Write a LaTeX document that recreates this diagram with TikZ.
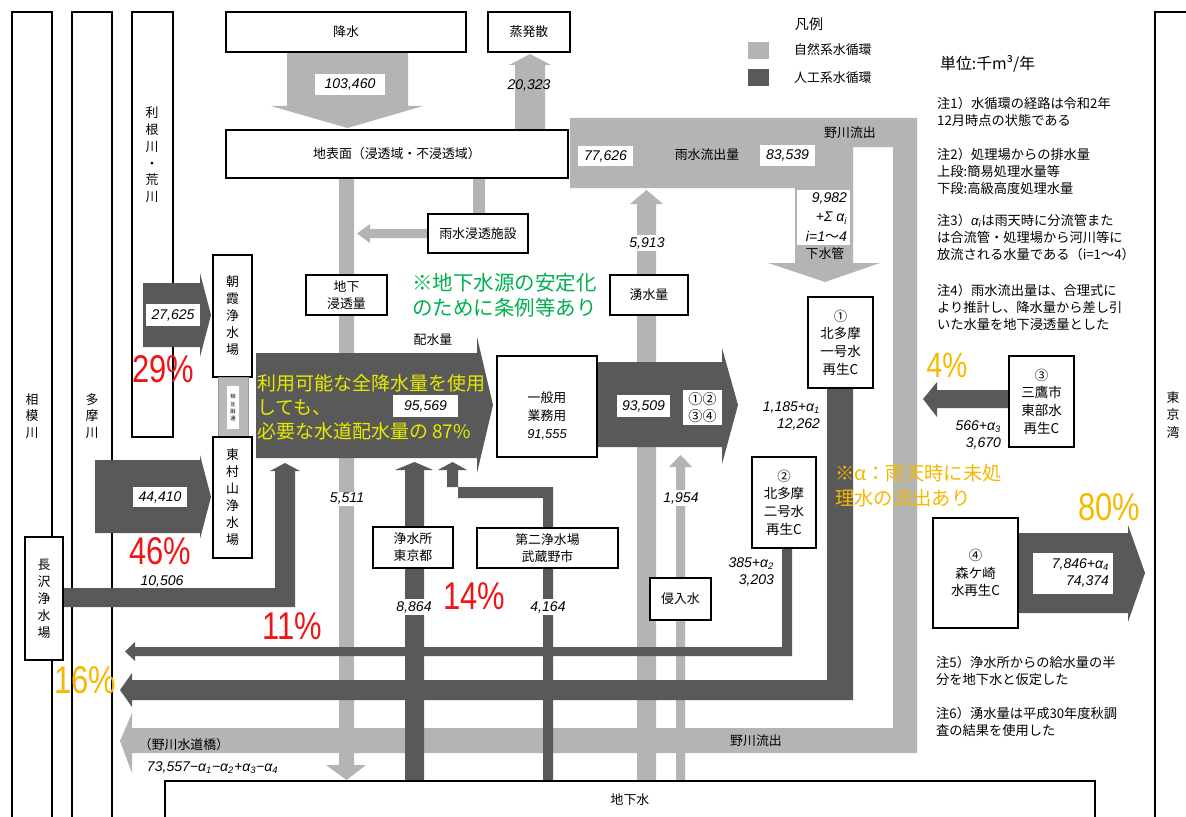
\documentclass[tikz,border=0pt]{standalone}
\usepackage{fontspec}
\usepackage{graphicx}
\setmainfont{Noto Sans CJK JP}
\newfontfamily\numf{Liberation Sans}
\newcommand\fs[2]{\fontsize{#1}{#2}\selectfont}
\definecolor{lg}{RGB}{180,180,180}
\definecolor{dg}{RGB}{89,89,89}
\definecolor{pred}{RGB}{240,20,20}
\definecolor{porg}{RGB}{245,185,0}
\definecolor{pgrn}{RGB}{0,176,80}
\definecolor{pyel}{RGB}{232,232,0}
\tikzset{
 bx/.style={draw, fill=white, line width=1.2pt, inner sep=0pt, align=center, font=\fs{11}{14.5}},
 tk/.style={bx, line width=2.4pt},
 cb/.style={bx, line width=1.5pt, font=\fs{11.5}{15}},
 wb/.style={fill=white, draw=none, inner sep=0pt},
 num/.style={font=\numf\itshape\fs{12}{15}, inner sep=1.5pt},
 wnum/.style={num, fill=white},
 jt/.style={font=\fs{11}{14.5}, inner sep=0pt, align=center},
 note/.style={anchor=north west, align=left, font=\fs{11.3}{14.5}, inner sep=0pt},
 pct/.style={font=\numf\fs{33}{33}, inner sep=0pt, text height=23pt, text depth=0pt},
}
\newcommand\bx[7][bx]{\node[#1, minimum width={(#5-#3)*0.3mm}, minimum height={(#6-#4)*0.3mm}] (#2) at ({(#3+#5)/2},{(#4+#6)/2}) {#7};}
\newcommand\pc[1]{\scalebox{0.8}[1]{#1}}
\begin{document}
\begin{tikzpicture}[x=0.03cm,y=-0.03cm]
\useasboundingbox (0,0) rectangle (1186,816);
\clip (0,0) rectangle (1186,816);
\fill[white] (0,0) rectangle (1186,816);

% ---------- river columns ----------
\bx{sagami}{12}{12}{52}{840}{}
\bx{tama}{72}{12}{112}{840}{}
\bx{tone}{132}{12}{173}{437}{}
\bx{tokyo}{1155}{12}{1210}{840}{}
\node[jt, font=\fs{11}{14}] (sagamit) at (32,416) {相\\模\\川};
\node[jt, font=\fs{11}{14}] (tamat) at (92,416) {多\\摩\\川};
\node[jt, font=\fs{11}{14.3}] (tonet) at (152,155) {利\\根\\川\\・\\荒\\川};
\node[jt, font=\fs{11}{15}] (tokyot) at (1173,415) {東\\京\\湾};

% ---------- light gray (natural) flows ----------
\fill[lg] (287,52) -- (408,52) -- (408,106) -- (423,106) -- (347.5,128) -- (271,106) -- (287,106) -- cycle;
\fill[lg] (515,130) -- (545,130) -- (545,65) -- (551,65) -- (530,54) -- (509,65) -- (515,65) -- cycle;
\fill[lg] (339,178) -- (354,178) -- (354,765) -- (366,765) -- (346.5,780) -- (326,765) -- (339,765) -- cycle;
\fill[lg] (473,178) rectangle (485,214);
\fill[lg] (428,229) -- (370,229) -- (370,224) -- (357,233.5) -- (370,243) -- (370,238) -- (428,238) -- cycle;
\fill[lg] (637,780) -- (637,204) -- (630,204) -- (646.5,190) -- (663,204) -- (656,204) -- (656,780) -- cycle;
\fill[lg] (676,780) -- (676,467) -- (669,467) -- (680.5,455) -- (692,467) -- (685,467) -- (685,780) -- cycle;
\fill[lg] (570,118) -- (917,118) -- (917,753) -- (132,753) -- (132,773) -- (120,741) -- (132,713) -- (132,728) -- (893,728) -- (893,147) -- (853,147) -- (853,263) -- (880,263) -- (825,282) -- (768,263) -- (795,263) -- (795,188) -- (570,188) -- cycle;

% ---------- dark gray (artificial) flows ----------
\fill[dg] (143,283) -- (200,283) -- (200,273) -- (211,315) -- (200,357) -- (200,347) -- (143,347) -- cycle;
\fill[dg] (95,460) -- (200,460) -- (200,455) -- (211,497) -- (200,539) -- (200,533) -- (95,533) -- cycle;
\fill[dg] (256,353) -- (477,353) -- (477,337) -- (493,405) -- (477,473) -- (477,458) -- (256,458) -- cycle;
\fill[dg] (597,362) -- (722,362) -- (722,348) -- (738,405) -- (722,464) -- (722,447) -- (597,447) -- cycle;
\fill[dg] (1009,390) -- (937,390) -- (937,382) -- (923,399) -- (937,417) -- (937,408) -- (1009,408) -- cycle;
\fill[dg] (1018,533) -- (1128,533) -- (1128,525) -- (1145,573) -- (1128,622) -- (1128,613) -- (1018,613) -- cycle;
\fill[dg] (63,588) -- (275,588) -- (275,471) -- (270,471) -- (285,463) -- (300,471) -- (295,471) -- (295,607) -- (63,607) -- cycle;
\fill[dg] (405,780) -- (405,470) -- (395,470) -- (414.5,462) -- (433,470) -- (424,470) -- (424,780) -- cycle;
\fill[dg] (543,780) -- (543,498) -- (458,498) -- (458,470) -- (467,470) -- (452.5,462) -- (438,470) -- (447,470) -- (447,487) -- (553,487) -- (553,780) -- cycle;
\fill[dg] (782,548) -- (792,548) -- (792,656) -- (135,656) -- (135,661) -- (125,651.5) -- (135,642) -- (135,647) -- (782,647) -- cycle;
\fill[dg] (827,388) -- (853,388) -- (853,700) -- (132,700) -- (132,707) -- (120,690) -- (132,673) -- (132,680) -- (827,680) -- cycle;

% ---------- boxes ----------
\bx{kousui}{226}{12}{466}{52}{降水}
\bx{jouhatsu}{488}{12}{570}{52}{蒸発散}
\bx{chihyou}{226}{130}{568}{178}{地表面（浸透域・不浸透域）}
\bx{shisetsu}{428}{214}{528}{253}{雨水浸透施設}
\bx{shintou}{306}{275}{387}{315}{地下\\浸透量}
\bx{yusui}{610}{275}{688}{315}{湧水量}
\bx[tk]{asaka}{213}{255}{252}{377}{朝\\霞\\浄\\水\\場}
\bx[bx, draw=gray!80, fill=gray!55, line width=0.6pt]{sogo}{218}{377}{248}{437}{}
\fill[white] (227,386) rectangle (239,429);
\node[inner sep=0pt, align=center, font=\fs{4.5}{6}] (sogot) at (233,407.5) {相\\互\\融\\通};
\bx[tk]{higashi}{213}{437}{252}{558}{東\\村\\山\\浄\\水\\場}
\bx[tk]{nagasawa}{25}{537}{63}{660}{長\\沢\\浄\\水\\場}
\bx{ippan}{497}{356}{597}{457}{}
\node[jt, font=\fs{11}{15.5}] (ippant) at (547,416) {一般用\\業務用\\{\numf\itshape 91,555}};
\bx[tk]{jousui}{373}{527}{453}{568}{浄水所\\東京都}
\bx[tk]{dai2}{477}{528}{618}{568}{第二浄水場\\武蔵野市}
\bx{shinnyu}{650}{578}{711}{620}{侵入水}
\bx[cb]{c1}{808}{297}{873}{388}{①\\北多摩\\一号水\\再生C}
\bx[cb]{c2}{752}{457}{816}{548}{②\\北多摩\\二号水\\再生C}
\bx[cb]{c3}{1009}{356}{1074}{447}{③\\三鷹市\\東部水\\再生C}
\bx[cb]{c4}{933}{518}{1018}{628}{④\\森ケ崎\\水再生C}
\bx{chika}{165}{781}{1095}{840}{}
\node[jt] (chikat) at (630,800) {地下水};

% ---------- labels on flows ----------
\bx[wb]{l103b}{315}{74}{385}{95}{}
\node[num] (l103) at (350,84.5) {103,460};
\node[num] (l203) at (529,85) {20,323};
\bx[wb]{l776b}{578}{146}{633}{166}{}
\node[num] (l776) at (605.5,156) {77,626};
\bx[wb]{l835b}{760}{145}{815}{166}{}
\node[num] (l835) at (787.5,155.5) {83,539};
\node[jt] (uryu) at (707,155) {雨水流出量};
\node[jt] (nogawa1) at (850,133) {野川流出};
\bx[wb]{l998b}{797}{190}{850}{245}{}
\node[num, anchor=east, align=right, font=\numf\itshape\fs{12}{16.5}] (l998) at (849,217) {9,982\\+Σ α\textsubscript{i}\\i=1{\rmfamily\upshape 〜}4};
\node[jt] (gesui) at (825,254) {下水管};
\node[wnum] (l591) at (647,243) {5,913};
\bx[wb]{l276b}{146}{304}{200}{326}{}
\node[num] (l276) at (173,315) {27,625};
\bx[wb]{l444b}{133}{487}{187}{507}{}
\node[num] (l444) at (160,497) {44,410};
\bx[wb]{l955b}{393}{395}{458}{417}{}
\node[num] (l955) at (425.5,406) {95,569};
\bx[wb]{l935b}{617}{395}{670}{417}{}
\node[num] (l935) at (643.5,406) {93,509};
\bx[wb]{lcirc}{683}{390}{722}{425}{}
\node[jt, font=\fs{12}{15}] (lcirct) at (702.5,407.5) {①②\\③④};
\node[jt] (haisui) at (433,340) {配水量};
\node[wnum] (l551) at (347,499) {5,511};
\node[wnum] (l886) at (414,607) {8,864};
\node[wnum] (l416) at (548,607) {4,164};
\node[wnum] (l195) at (681,498) {1,954};
\node[num, inner sep=0pt] (l105) at (162,581) {10,506};
\node[num, anchor=east, align=right] (la1) at (822,416) {1,185+α\textsubscript{1}\\12,262};
\node[num, anchor=east, align=right] (la2) at (776,572) {385+α\textsubscript{2}\\3,203};
\node[num, anchor=east, align=right] (la3) at (1003,435) {566+α\textsubscript{3}\\3,670};
\bx[wb]{la4b}{1033}{553}{1113}{594}{}
\node[num, anchor=east, align=right] (la4) at (1111,573) {7,846+α\textsubscript{4}\\74,374};
\node[jt] (suidoubashi) at (184,745) {（野川水道橋）};
\node[jt] (nogawa2) at (756,741) {野川流出};
\node[num, anchor=west] (l735) at (145,768) {73,557−α\textsubscript{1}−α\textsubscript{2}+α\textsubscript{3}−α\textsubscript{4}};

% ---------- coloured annotations ----------
\node[anchor=north west, align=left, font=\fs{16.2}{20.5}, text=pyel, inner sep=0pt] (yel) at (257,374) {利用可能な全降水量を使用\\しても、\\必要な水道配水量の 87\%};
\node[anchor=north west, align=left, font=\fs{17.5}{21.3}, text=pgrn, inner sep=0pt] (grn) at (412,273) {※地下水源の安定化\\のために条例等あり};
\node[anchor=north west, align=left, font=\fs{16.5}{21.3}, text=porg, inner sep=0pt] (org) at (835,464) {※α：雨天時に未処\\理水の流出あり};
\node[pct, text=pred] (p29) at (163,369) {\pc{29\%}};
\node[pct, text=pred] (p46) at (160,551) {\pc{46\%}};
\node[pct, text=pred] (p11) at (292,626) {\pc{11\%}};
\node[pct, text=pred] (p14) at (474,596) {\pc{14\%}};
\node[pct, text=porg] (p16) at (85,680) {\pc{16\%}};
\node[pct, text=porg, font=\numf\fs{30}{30}, text height=21pt] (p4) at (947,365) {\pc{4\%}};
\node[pct, text=porg] (p80) at (1109,507) {\pc{80\%}};

% ---------- legend and notes ----------
\node[jt, font=\fs{12}{14}] (hanrei) at (809,24) {凡例};
\fill[lg] (748,42) rectangle (769,59);
\fill[dg] (748,69) rectangle (769,86);
\node[jt, anchor=west] (lgnat) at (794,50) {自然系水循環};
\node[jt, anchor=west] (lgart) at (794,78) {人工系水循環};
\node[jt, anchor=west, font=\fs{13.5}{16}] (unit) at (940,64) {単位:千m³/年};
\node[note] (n1) at (937,97) {注1）水循環の経路は令和2年\\12月時点の状態である};
\node[note] (n2) at (937,148) {注2）処理場からの排水量\\上段:簡易処理水量等\\下段:高級高度処理水量};
\node[note] (n3) at (937,214) {注3）{\numf\itshape α\textsubscript{i}}は雨天時に分流管また\\は合流管・処理場から河川等に\\放流される水量である（i=1〜4）};
\node[note] (n4) at (937,284) {注4）雨水流出量は、合理式に\\より推計し、降水量から差し引\\いた水量を地下浸透量とした};
\node[note] (n5) at (936,656) {注5）浄水所からの給水量の半\\分を地下水と仮定した};
\node[note] (n6) at (936,707) {注6）湧水量は平成30年度秋調\\査の結果を使用した};
\end{tikzpicture}
\end{document}
